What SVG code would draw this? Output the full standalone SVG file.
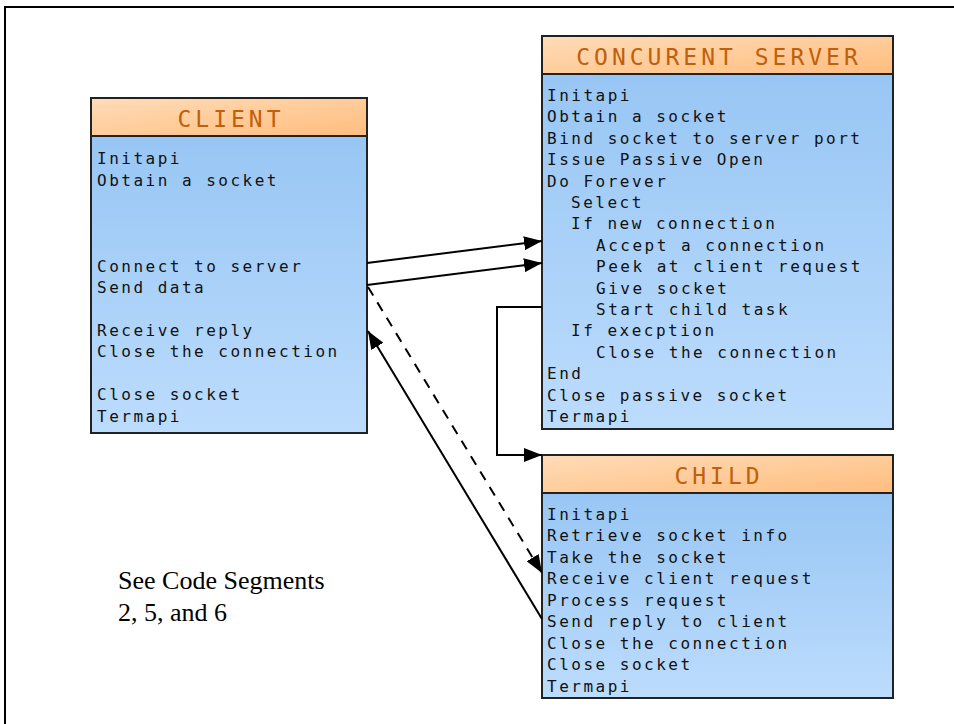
<svg xmlns="http://www.w3.org/2000/svg" width="954" height="724" viewBox="0 0 954 724">
  <defs>
    <linearGradient id="hdr" x1="0" y1="0" x2="1" y2="1">
      <stop offset="0" stop-color="#ffdcb8"/>
      <stop offset="1" stop-color="#ffbd7e"/>
    </linearGradient>
    <linearGradient id="body" x1="0" y1="0" x2="0" y2="1">
      <stop offset="0" stop-color="#98c6f4"/>
      <stop offset="1" stop-color="#bcdcfd"/>
    </linearGradient>
    <marker id="arrow" viewBox="0 0 18 14" refX="18" refY="7" markerWidth="18" markerHeight="14" markerUnits="userSpaceOnUse" orient="auto">
      <path d="M0,0 L18,7 L0,14 Z" fill="#000"/>
    </marker>
    <style>
      .frame { fill: none; stroke: #000; stroke-width: 2; }
      .head { fill: url(#hdr); stroke: #222; stroke-width: 2; }
      .body { fill: url(#body); stroke: #222; stroke-width: 2; }
      .title { font-family: "DejaVu Sans Mono", "Liberation Mono", monospace; font-size: 23px; letter-spacing: 4px; fill: #c0600a; text-anchor: middle; }
      .line { font-family: "DejaVu Sans Mono", "Liberation Mono", monospace; font-size: 16px; letter-spacing: 2.5px; fill: #111; }
      .note { font-family: "Liberation Serif", "Times New Roman", serif; font-size: 26px; fill: #000; }
      .conn { fill: none; stroke: #000; stroke-width: 2; marker-end: url(#arrow); }
      .dash { stroke-dasharray: 10 8; }
    </style>
  </defs>

  <rect width="954" height="724" fill="#fff"/>
  <!-- page frame: only the top and left edges are visible -->
  <path class="frame" d="M5,724 V7 H954"/>

  <g id="client">
    <rect class="body" x="91" y="136" width="276" height="297"/>
    <rect class="head" x="91" y="98" width="276" height="38"/>
    <text class="title" x="231" y="127">CLIENT</text>
    <text class="line" x="97" y="164">Initapi</text>
    <text class="line" x="97" y="186">Obtain a socket</text>
    <text class="line" x="97" y="272">Connect to server</text>
    <text class="line" x="97" y="293">Send data</text>
    <text class="line" x="97" y="336">Receive reply</text>
    <text class="line" x="97" y="357">Close the connection</text>
    <text class="line" x="97" y="400">Close socket</text>
    <text class="line" x="97" y="422">Termapi</text>
  </g>

  <g id="server">
    <rect class="body" x="542" y="74" width="351" height="355"/>
    <rect class="head" x="542" y="36" width="351" height="38"/>
    <text class="title" x="719" y="65">CONCURENT SERVER</text>
    <text class="line" x="547" y="101">Initapi</text>
    <text class="line" x="547" y="122">Obtain a socket</text>
    <text class="line" x="547" y="144">Bind socket to server port</text>
    <text class="line" x="547" y="165">Issue Passive Open</text>
    <text class="line" x="547" y="187">Do Forever</text>
    <text class="line" x="571" y="208">Select</text>
    <text class="line" x="571" y="229">If new connection</text>
    <text class="line" x="596" y="251">Accept a connection</text>
    <text class="line" x="596" y="272">Peek at client request</text>
    <text class="line" x="596" y="294">Give socket</text>
    <text class="line" x="596" y="315">Start child task</text>
    <text class="line" x="571" y="336">If execption</text>
    <text class="line" x="596" y="358">Close the connection</text>
    <text class="line" x="547" y="379">End</text>
    <text class="line" x="547" y="401">Close passive socket</text>
    <text class="line" x="547" y="422">Termapi</text>
  </g>

  <g id="child">
    <rect class="body" x="542" y="493" width="351" height="205"/>
    <rect class="head" x="542" y="455" width="351" height="38"/>
    <text class="title" x="719" y="484">CHILD</text>
    <text class="line" x="547" y="520">Initapi</text>
    <text class="line" x="547" y="541">Retrieve socket info</text>
    <text class="line" x="547" y="563">Take the socket</text>
    <text class="line" x="547" y="584">Receive client request</text>
    <text class="line" x="547" y="606">Process request</text>
    <text class="line" x="547" y="627">Send reply to client</text>
    <text class="line" x="547" y="649">Close the connection</text>
    <text class="line" x="547" y="670">Close socket</text>
    <text class="line" x="547" y="692">Termapi</text>
  </g>

  <g id="connectors">
    <line class="conn" x1="367" y1="263" x2="542" y2="241"/>
    <line class="conn" x1="367" y1="285" x2="542" y2="263"/>
    <line class="conn dash" x1="368" y1="287" x2="542" y2="573"/>
    <line class="conn" x1="542" y1="619" x2="368" y2="331"/>
    <polyline class="conn" points="542,307 497,307 497,455 542,455"/>
  </g>

  <g id="note">
    <text class="note" x="118" y="589">See Code Segments</text>
    <text class="note" x="118" y="621">2, 5, and 6</text>
  </g>
</svg>
